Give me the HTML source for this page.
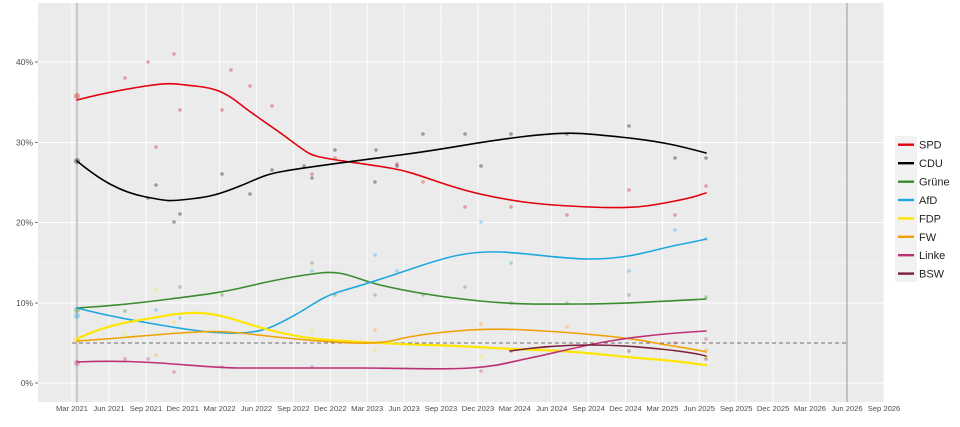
<!DOCTYPE html>
<html><head><meta charset="utf-8"><style>
html,body{margin:0;padding:0;background:#fff;}
svg{display:block;font-family:"Liberation Sans",sans-serif;}
</style></head><body>
<svg width="960" height="427" viewBox="0 0 960 427" xmlns="http://www.w3.org/2000/svg">
<rect x="38" y="3" width="846" height="399" fill="#ebebeb"/>
<g stroke="#f5f5f5" stroke-width="0.6">
<line x1="38" x2="884" y1="363" y2="363"/><line x1="38" x2="884" y1="263" y2="263"/>
<line x1="38" x2="884" y1="182.5" y2="182.5"/><line x1="38" x2="884" y1="102" y2="102"/>
<line x1="38" x2="884" y1="22" y2="22"/>
</g>
<g stroke="#fff" stroke-width="1.1">
<line x1="38" x2="884" y1="383" y2="383"/><line x1="38" x2="884" y1="303" y2="303"/>
<line x1="38" x2="884" y1="222.5" y2="222.5"/><line x1="38" x2="884" y1="142.5" y2="142.5"/>
<line x1="38" x2="884" y1="62" y2="62"/>
</g>
<g stroke="#fff" stroke-width="0.9" id="vg">
<line x1="72" x2="72" y1="3" y2="402"/><line x1="109" x2="109" y1="3" y2="402"/><line x1="146" x2="146" y1="3" y2="402"/><line x1="182.7" x2="182.7" y1="3" y2="402"/><line x1="219.6" x2="219.6" y1="3" y2="402"/><line x1="256.5" x2="256.5" y1="3" y2="402"/><line x1="293.4" x2="293.4" y1="3" y2="402"/><line x1="330.3" x2="330.3" y1="3" y2="402"/><line x1="367.2" x2="367.2" y1="3" y2="402"/><line x1="404.1" x2="404.1" y1="3" y2="402"/><line x1="441" x2="441" y1="3" y2="402"/><line x1="478" x2="478" y1="3" y2="402"/><line x1="514.8" x2="514.8" y1="3" y2="402"/><line x1="551.7" x2="551.7" y1="3" y2="402"/><line x1="588.6" x2="588.6" y1="3" y2="402"/><line x1="625.5" x2="625.5" y1="3" y2="402"/><line x1="662.4" x2="662.4" y1="3" y2="402"/><line x1="699.3" x2="699.3" y1="3" y2="402"/><line x1="736.2" x2="736.2" y1="3" y2="402"/><line x1="773.1" x2="773.1" y1="3" y2="402"/><line x1="810" x2="810" y1="3" y2="402"/><line x1="847" x2="847" y1="3" y2="402"/><line x1="884" x2="884" y1="3" y2="402"/>
</g>
<line x1="77" x2="77" y1="3" y2="402" stroke="#bbb" stroke-width="1.5"/>
<line x1="847" x2="847" y1="3" y2="402" stroke="#999" stroke-width="1"/>
<line x1="72" x2="847" y1="343" y2="343" stroke="#444" stroke-width="0.8" stroke-dasharray="4,3"/>
<g fill-opacity="0.35">
<g fill="#e3000f"><circle cx="77" cy="96" r="3"/><circle cx="125" cy="78" r="1.8"/><circle cx="148" cy="62" r="1.8"/><circle cx="156" cy="147" r="1.8"/><circle cx="174" cy="54" r="1.8"/><circle cx="180" cy="110" r="1.8"/><circle cx="222" cy="110" r="1.8"/><circle cx="231" cy="70" r="1.8"/><circle cx="250" cy="86" r="1.8"/><circle cx="272" cy="106" r="1.8"/><circle cx="312" cy="174" r="1.8"/><circle cx="335" cy="158" r="1.8"/><circle cx="397" cy="164" r="1.8"/><circle cx="423" cy="182" r="1.8"/><circle cx="465" cy="207" r="1.8"/><circle cx="511" cy="207" r="1.8"/><circle cx="567" cy="215" r="1.8"/><circle cx="629" cy="190" r="1.8"/><circle cx="675" cy="215" r="1.8"/><circle cx="706" cy="186" r="1.8"/></g>
<g fill="#000"><circle cx="77" cy="161" r="3"/><circle cx="156" cy="185" r="1.8"/><circle cx="148" cy="198" r="1.8"/><circle cx="174" cy="222" r="1.8"/><circle cx="180" cy="214" r="1.8"/><circle cx="222" cy="174" r="1.8"/><circle cx="250" cy="194" r="1.8"/><circle cx="272" cy="170" r="1.8"/><circle cx="304" cy="166" r="1.8"/><circle cx="312" cy="178" r="1.8"/><circle cx="335" cy="150" r="1.8"/><circle cx="375" cy="182" r="1.8"/><circle cx="376" cy="150" r="1.8"/><circle cx="397" cy="166" r="1.8"/><circle cx="423" cy="134" r="1.8"/><circle cx="465" cy="134" r="1.8"/><circle cx="481" cy="166" r="1.8"/><circle cx="511" cy="134" r="1.8"/><circle cx="567" cy="134" r="1.8"/><circle cx="629" cy="126" r="1.8"/><circle cx="675" cy="158" r="1.8"/><circle cx="706" cy="158" r="1.8"/></g>
<g fill="#1ea7e0"><circle cx="77" cy="316" r="3"/><circle cx="156" cy="310" r="1.8"/><circle cx="180" cy="318" r="1.8"/><circle cx="312" cy="271" r="1.8"/><circle cx="375" cy="255" r="1.8"/><circle cx="397" cy="271" r="1.8"/><circle cx="481" cy="222" r="1.8"/><circle cx="511" cy="263" r="1.8"/><circle cx="629" cy="271" r="1.8"/><circle cx="675" cy="230" r="1.8"/><circle cx="706" cy="239" r="1.8"/></g>
<g fill="#3a8c2f"><circle cx="77" cy="310" r="3"/><circle cx="125" cy="311" r="1.8"/><circle cx="180" cy="287" r="1.8"/><circle cx="222" cy="295" r="1.8"/><circle cx="312" cy="263" r="1.8"/><circle cx="335" cy="295" r="1.8"/><circle cx="375" cy="295" r="1.8"/><circle cx="423" cy="295" r="1.8"/><circle cx="465" cy="287" r="1.8"/><circle cx="511" cy="303" r="1.8"/><circle cx="567" cy="303" r="1.8"/><circle cx="629" cy="295" r="1.8"/><circle cx="706" cy="297" r="1.8"/></g>
<g fill="#ffe600"><circle cx="77" cy="340" r="3"/><circle cx="125" cy="334" r="1.8"/><circle cx="156" cy="290" r="1.8"/><circle cx="174" cy="322" r="1.8"/><circle cx="312" cy="331" r="1.8"/><circle cx="375" cy="350" r="1.8"/><circle cx="481" cy="357" r="1.8"/><circle cx="706" cy="357" r="1.8"/></g>
<g fill="#f0a000"><circle cx="156" cy="355" r="1.8"/><circle cx="375" cy="330" r="1.8"/><circle cx="481" cy="324" r="1.8"/><circle cx="567" cy="327" r="1.8"/><circle cx="706" cy="350" r="1.8"/></g>
<g fill="#be3075"><circle cx="77" cy="363" r="3"/><circle cx="125" cy="359" r="1.8"/><circle cx="148" cy="359" r="1.8"/><circle cx="174" cy="372" r="1.8"/><circle cx="222" cy="367" r="1.8"/><circle cx="312" cy="367" r="1.8"/><circle cx="481" cy="371" r="1.8"/><circle cx="675" cy="343" r="1.8"/><circle cx="706" cy="339" r="1.8"/></g>
<g fill="#7b2138"><circle cx="511" cy="351" r="1.8"/><circle cx="629" cy="351" r="1.8"/><circle cx="706" cy="359" r="1.8"/></g>
</g>
<g fill="none" stroke-width="1.6" stroke-linejoin="round" stroke-linecap="round">
<path stroke="#e3000f" d="M77,100 C100,94 120,90 146,86 S175,84 195,86 S225,92 240,104 S270,125 290,140 S310,155 325,158 S360,163 390,168 S440,185 480,194 S545,205 590,207 S650,206 675,201 S695,196 706,193"/>
<path stroke="#000" d="M77,161 C100,180 120,192 146,197 S170,201 190,199 S220,194 240,186 S262,175 285,171 S340,163 400,155 S470,143 520,137 S580,133 620,137 S680,146 706,153"/>
<path stroke="#3a8c2f" d="M77,308 C110,306 140,303 170,299 S220,293 245,287 S295,276 320,273 S355,279 380,285 S440,297 480,301 S545,304 580,304 S650,302 706,299"/>
<path stroke="#1ea7e0" d="M77,308 C100,314 130,320 160,325 S215,334 240,333 S275,326 295,315 S320,297 345,290 S390,276 420,266 S470,251 500,252 S560,259 590,259 S640,254 660,249 S690,243 706,239"/>
<path stroke="#ffe600" stroke-width="2.2" d="M77,339 C95,330 115,324 140,320 S180,312 200,313 S235,320 255,326 S300,338 330,340 S390,344 430,345 S500,349 540,350 S620,357 650,359 S695,364 706,365"/>
<path stroke="#f0a000" d="M77,341 C110,339 150,335 180,333 S220,331 240,333 S290,339 320,341 S375,345 395,340 S440,332 470,330 S530,330 560,332 S630,338 650,342 S690,348 706,352"/>
<path stroke="#be3075" d="M77,362 C100,361 130,361 160,363 S215,368 240,368 S320,368 360,368 S440,370 470,368 S510,362 530,358 S580,346 610,341 S670,333 706,331"/>
<path stroke="#7b2138" d="M510,351 C530,348 560,345 590,345 S640,347 660,349 S695,353 706,356"/>
</g>
<g fill="#4d4d4d" font-size="8.5" text-anchor="end">
<text x="33" y="386">0%</text><text x="33" y="306">10%</text><text x="33" y="225.5">20%</text><text x="33" y="145.5">30%</text><text x="33" y="65">40%</text>
</g>
<g stroke="#4d4d4d" stroke-width="0.8">
<line x1="35" x2="38" y1="383" y2="383"/><line x1="35" x2="38" y1="303" y2="303"/><line x1="35" x2="38" y1="222.5" y2="222.5"/><line x1="35" x2="38" y1="142.5" y2="142.5"/><line x1="35" x2="38" y1="62" y2="62"/>
</g>
<g fill="#4d4d4d" font-size="7.6" text-anchor="middle">
<text x="72" y="411">Mar 2021</text><text x="109" y="411">Jun 2021</text><text x="146" y="411">Sep 2021</text><text x="182.7" y="411">Dec 2021</text><text x="219.6" y="411">Mar 2022</text><text x="256.5" y="411">Jun 2022</text><text x="293.4" y="411">Sep 2022</text><text x="330.3" y="411">Dec 2022</text><text x="367.2" y="411">Mar 2023</text><text x="404.1" y="411">Jun 2023</text><text x="441" y="411">Sep 2023</text><text x="478" y="411">Dec 2023</text><text x="514.8" y="411">Mar 2024</text><text x="551.7" y="411">Jun 2024</text><text x="588.6" y="411">Sep 2024</text><text x="625.5" y="411">Dec 2024</text><text x="662.4" y="411">Mar 2025</text><text x="699.3" y="411">Jun 2025</text><text x="736.2" y="411">Sep 2025</text><text x="773.1" y="411">Dec 2025</text><text x="810" y="411">Mar 2026</text><text x="847" y="411">Jun 2026</text><text x="884" y="411">Sep 2026</text>
</g>
<rect x="895" y="136" width="22" height="146" fill="#f2f2f2"/>
<g stroke-width="2.4">
<line x1="898" x2="914" y1="144.7" y2="144.7" stroke="#e3000f"/>
<line x1="898" x2="914" y1="163.2" y2="163.2" stroke="#000"/>
<line x1="898" x2="914" y1="181.7" y2="181.7" stroke="#3a8c2f"/>
<line x1="898" x2="914" y1="200" y2="200" stroke="#1ea7e0"/>
<line x1="898" x2="914" y1="218.4" y2="218.4" stroke="#ffe600"/>
<line x1="898" x2="914" y1="236.8" y2="236.8" stroke="#f0a000"/>
<line x1="898" x2="914" y1="255.2" y2="255.2" stroke="#be3075"/>
<line x1="898" x2="914" y1="273.6" y2="273.6" stroke="#7b2138"/>
</g>
<g fill="#222" font-size="11">
<text x="919" y="148.7">SPD</text><text x="919" y="167.2">CDU</text><text x="919" y="185.7">Grüne</text><text x="919" y="204">AfD</text><text x="919" y="222.4">FDP</text><text x="919" y="240.8">FW</text><text x="919" y="259.2">Linke</text><text x="919" y="277.6">BSW</text>
</g>
</svg>
</body></html>
